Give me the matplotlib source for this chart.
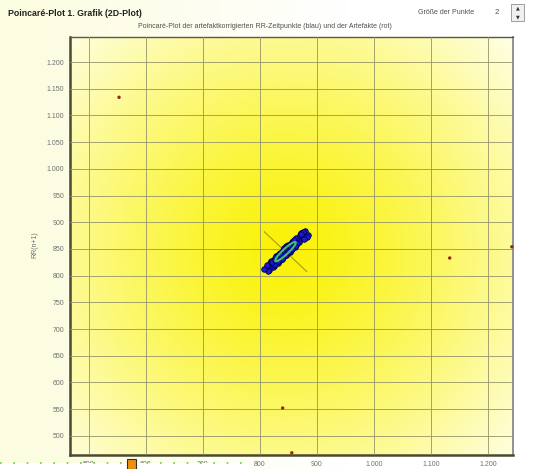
import numpy as np
import matplotlib.pyplot as plt
from matplotlib.patches import Ellipse, Rectangle
from matplotlib.ticker import FuncFormatter

plt.rcParams['font.family'] = ['Liberation Sans', 'DejaVu Sans']

# artefaktkorrigierte RR-Intervalle (ms)
rr = [840, 848, 843, 851, 846, 855, 849, 857, 852, 846, 840, 834, 839, 832, 826,
      831, 824, 818, 823, 816, 810, 815, 808, 813, 819, 825, 820, 827, 833, 829,
      836, 842, 838, 845, 851, 847, 854, 860, 856, 863, 868, 864, 871, 876, 872,
      879, 884, 876, 882, 873, 878, 869, 863, 857, 861, 854, 848, 852, 845, 839,
      843, 836, 830, 834, 827, 821, 826, 830, 837, 833, 840, 846, 842, 849, 855,
      851, 858, 864, 860, 866, 861, 856, 850, 845, 839, 844, 838, 832, 828, 835,
      841]

# Artefakte (rot)
art_x = [553, 1133, 1242, 840, 856]
art_y = [1134, 833, 854, 552, 468]

x_ticks = [500, 600, 700, 800, 900, 1000, 1100, 1200]
y_ticks = [500, 550, 600, 650, 700, 750, 800, 850, 900, 950, 1000, 1050, 1100, 1150, 1200]
x_lim = (467, 1244)
y_lim = (464, 1247)
sd1 = 5
sd2 = 25

title = "Poincaré-Plot 1. Grafik (2D-Plot)"
subtitle = "Poincaré-Plot der artefaktkorrigierten RR-Zeitpunkte (blau) und der Artefakte (rot)"

rr = np.array(rr)
px, py = rr[:-1], rr[1:]
cx, cy = px.mean(), py.mean()

fig = plt.figure(figsize=(5.33, 4.69), dpi=100)

# hintergrund
bg = fig.add_axes([0, 0, 1, 1], zorder=-2)
g = np.linspace(0, 1, 300)
g = np.clip((g - 0.05) / 0.6, 0, 1)
col0 = np.array([0.99, 0.99, 0.88])
col1 = np.array([1.0, 1.0, 1.0])
bgimg = col0 * (1 - g[None, :, None]) + col1 * g[None, :, None]
bg.imshow(bgimg, extent=(0, 1, 0, 1), aspect='auto')
bg.axis('off')

ax = fig.add_axes([70/533, 1 - 455/469, 443/533, 418/469], zorder=1)

xs = np.linspace(*x_lim, 300)
ys = np.linspace(*y_lim, 300)
X, Y = np.meshgrid(xs, ys)
d = np.hypot((X - cx) * 0.57, (Y - cy) * 0.534)
t = np.clip(d / 320, 0, 1) ** 1.25
yel = np.array([0.98, 0.95, 0.02])
pale = np.array([1.0, 1.0, 0.93])
img = yel * (1 - t[..., None]) + pale * t[..., None]
ax.imshow(img, extent=(*x_lim, *y_lim), origin='lower', aspect='auto', zorder=0)

ax.set_xlim(x_lim)
ax.set_ylim(y_lim)
ax.set_xticks(x_ticks)
ax.set_yticks(y_ticks)
fmt = FuncFormatter(lambda v, p: f"{v:,.0f}".replace(",", "."))
ax.xaxis.set_major_formatter(fmt)
ax.yaxis.set_major_formatter(fmt)
ax.tick_params(length=0, labelsize=5, colors='#707070', pad=4)
ax.grid(True, color='#94946a', lw=0.6, zorder=1)
ax.set_axisbelow(False)

for s in ['left', 'bottom']:
    ax.spines[s].set_color('#4a4a30')
    ax.spines[s].set_linewidth(1.8)
ax.spines['top'].set_color('#5a5a40')
ax.spines['top'].set_linewidth(1.0)
ax.spines['right'].set_color('#909090')
ax.spines['right'].set_linewidth(1.4)

# SD1/SD2 Achsen
L = 37
ax.plot([cx - L, cx + L], [cy + L, cy - L], color='#b0a020', lw=0.9, zorder=2)
ax.plot([cx - L, cx + L], [cy - L, cy + L], color='#b0a020', lw=0.9, zorder=2)

ax.scatter(px, py, s=16, c='#1a1ad0', edgecolors='#000050', linewidths=0.6, zorder=3)
ax.add_patch(Ellipse((cx, cy), 2 * sd2, 2 * sd1, angle=45, fill=False,
                     edgecolor='#40c070', lw=1.5, zorder=4))
ax.scatter(art_x, art_y, s=6, c='#902a10', edgecolors='none', zorder=5, clip_on=False)

fig.text(8/533, 1 - 13/469, title, fontsize=6.3, fontweight='bold', color='#202020', va='center')
fig.text(265/533, 1 - 27/469, subtitle, fontsize=5, color='#505050', ha='center', va='center')
fig.text(418/533, 1 - 12/469, "Größe der Punkte", fontsize=5, color='#505050', va='center')
fig.text(495/533, 1 - 12/469, "2", fontsize=5.5, color='#505050', va='center')
fig.text(35/533, 1 - 245/469, "RR(n+1)", fontsize=5, color='#707070', rotation=90,
         ha='center', va='center')

# Spinner
fig.patches.append(Rectangle((511/533, 1 - 21/469), 13/533, 17/469, transform=fig.transFigure,
                             facecolor='#f0f0f0', edgecolor='#909090', lw=0.6))
fig.text(517.5/533, 1 - 8/469, "▲", fontsize=3.5, ha='center', va='center', color='#303030',
         family='DejaVu Sans')
fig.text(517.5/533, 1 - 17/469, "▼", fontsize=3.5, ha='center', va='center', color='#303030',
         family='DejaVu Sans')

# Auswahlrahmen unten links
fig.patches.append(Rectangle((0, 0), 250/533, 6/469, transform=fig.transFigure,
                             facecolor='white', edgecolor='none', zorder=5))
fig.lines.append(plt.Line2D([0, 250/533], [6/469, 6/469], transform=fig.transFigure,
                            color='#60d040', lw=1.2, ls=(0, (1, 7)), zorder=6))
fig.patches.append(Rectangle((127/533, 0), 9/533, 10/469, transform=fig.transFigure,
                             facecolor='#f09010', edgecolor='#303030', lw=0.8, zorder=7))

fig.savefig('out.png', dpi=100)
